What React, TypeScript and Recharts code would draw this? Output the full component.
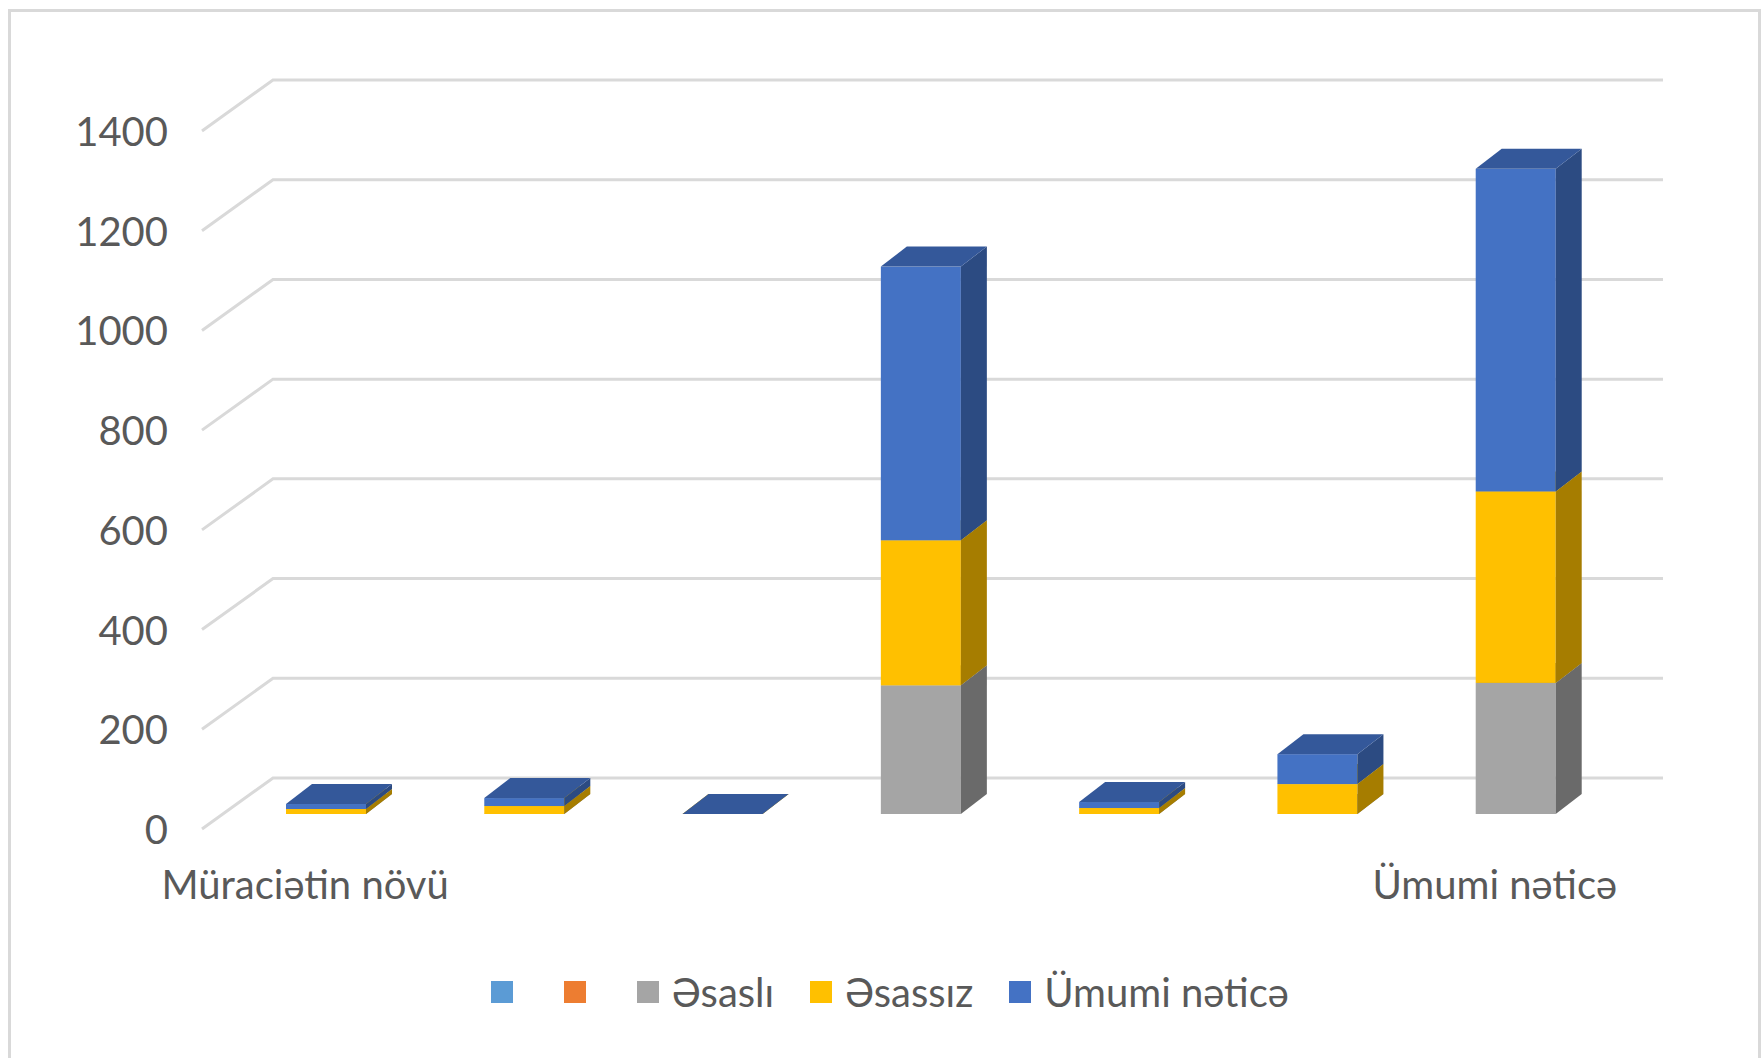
import React from 'react';
import { BarChart, Bar, XAxis, YAxis, CartesianGrid, Legend } from 'recharts';

// values (3D stacked columns, Excel style)
const categories = ['Müraciətin növü', '', '', '', '', '', 'Ümumi nəticə'];
const blank1: (number | null)[] = [null, null, null, null, null, null, null];
const blank2: (number | null)[] = [null, null, null, null, null, null, null];
const esasli = [0, 0, 0, 258, 0, 0, 263];
const esassiz = [10, 16, 0, 291, 12, 60, 384];
const umumi = [10, 16, 0, 549, 12, 60, 647];
const yTicks = [0, 200, 400, 600, 800, 1000, 1200, 1400];

const series = [
  { key: 's1', name: '', front: '#5B9BD5', side: '#3E74A8', top: '#4A84BD' },
  { key: 's2', name: '', front: '#ED7D31', side: '#B25A1F', top: '#C96A28' },
  { key: 'esasli', name: 'Əsaslı', front: '#A5A5A5', side: '#6A6A6A', top: '#8A8A8A' },
  { key: 'esassiz', name: 'Əsassız', front: '#FFC000', side: '#A67D00', top: '#D9A400' },
  { key: 'umumi', name: 'Ümumi nəticə', front: '#4472C4', side: '#2C4B82', top: '#34589A' },
];

const data = categories.map((name, i) => ({
  name,
  s1: blank1[i],
  s2: blank2[i],
  esasli: esasli[i],
  esassiz: esassiz[i],
  umumi: umumi[i],
}));

const FONT = 'Lato, "Noto Sans", "Liberation Sans", sans-serif';
const TEXT = '#595959';
const GRID = '#D9D9D9';
// oblique depth of the bars and of the floor/back wall
const DX = 26, DY = 20;
const FRONT_X = -25, FRONT_Y = 15;
const BACK_X = 46, BACK_Y = -36;

function Box3D(props: any) {
  const { x, y, width, height, front, side, top } = props;
  if (x == null || y == null || isNaN(y)) return <g />;
  const h = Math.max(height || 0, 0);
  const r = x + width;
  const sidePts = `${r},${y} ${r + DX},${y - DY} ${r + DX},${y + h - DY} ${r},${y + h}`;
  const topPts = `${x},${y} ${x + DX},${y - DY} ${r + DX},${y - DY} ${r},${y}`;
  return (
    <g>
      {h > 0 && <rect x={x} y={y} width={width} height={h} fill={front} />}
      <polygon points={sidePts} fill={side} />
      <polygon points={topPts} fill={top} />
    </g>
  );
}

const gridLine = (p: any) => {
  const { x1, x2, y1 } = p;
  const pts = `${x1 + FRONT_X},${y1 + FRONT_Y} ${x1 + BACK_X},${y1 + BACK_Y} ${x2 + BACK_X + 2},${y1 + BACK_Y}`;
  return <polyline key={p.key} points={pts} fill="none" stroke={GRID} strokeWidth={3} />;
};

const YTick = (p: any) => (
  <text x={p.x - 51} y={p.y + FRONT_Y} textAnchor="end" dominantBaseline="central"
    fill={TEXT} fontSize={40} fontFamily={FONT}>
    {p.payload.value}
  </text>
);

const XTick = (p: any) => {
  if (!p.payload.value) return <g />;
  return (
    <text x={p.x - 21} y={p.y + 62} textAnchor="middle" dominantBaseline="central"
      fill={TEXT} fontSize={40} fontFamily={FONT}>
      {p.payload.value}
    </text>
  );
};

// legend keeps the series order of the source chart
const LegendBox = () => (
  <div style={{ display: 'flex', alignItems: 'center', height: 60, paddingLeft: 491, fontFamily: FONT, fontSize: 40, color: TEXT }}>
    {series.map(s => (
      <div key={s.key} style={{ display: 'flex', alignItems: 'center', marginRight: s.name ? 36 : 38 }}>
        <span style={{ width: 22, height: 22, background: s.front, marginRight: 13, display: 'inline-block' }} />
        <span style={{ whiteSpace: 'pre' }}>{s.name}</span>
      </div>
    ))}
  </div>
);

export default function App() {
  return (
    <div style={{ position: 'absolute', left: 0, top: 0, width: 1762, height: 1058, background: '#fff', overflow: 'hidden' }}>
      <div style={{ position: 'absolute', left: 8, top: 9, width: 1753, height: 1049, boxSizing: 'border-box', border: `3px solid ${GRID}`, borderBottom: 'none' }} />
      <div style={{ position: 'absolute', left: 0, top: 0 }}>
        <BarChart width={1762} height={1058} data={data} barSize={80}
          margin={{ top: 116, right: 147, left: 0, bottom: 84 }}>
          <CartesianGrid vertical={false} horizontal={gridLine} />
          <XAxis dataKey="name" axisLine={false} tickLine={false} height={100} tick={XTick} interval={0} />
          <YAxis domain={[0, 1400]} ticks={yTicks} axisLine={false} tickLine={false} width={227} tick={YTick} />
          <Legend verticalAlign="bottom" height={60} content={LegendBox}
            wrapperStyle={{ left: 0, top: 962, width: 1762, height: 60 }} />
          {series.map(s => (
            <Bar key={s.key} dataKey={s.key} name={s.name || s.key} stackId="a" fill={s.front}
              isAnimationActive={false}
              shape={(p: any) => (s.key === 's1' || s.key === 's2')
                ? <g />
                : <Box3D {...p} front={s.front} side={s.side} top={s.top} />} />
          ))}
        </BarChart>
      </div>
    </div>
  );
}
